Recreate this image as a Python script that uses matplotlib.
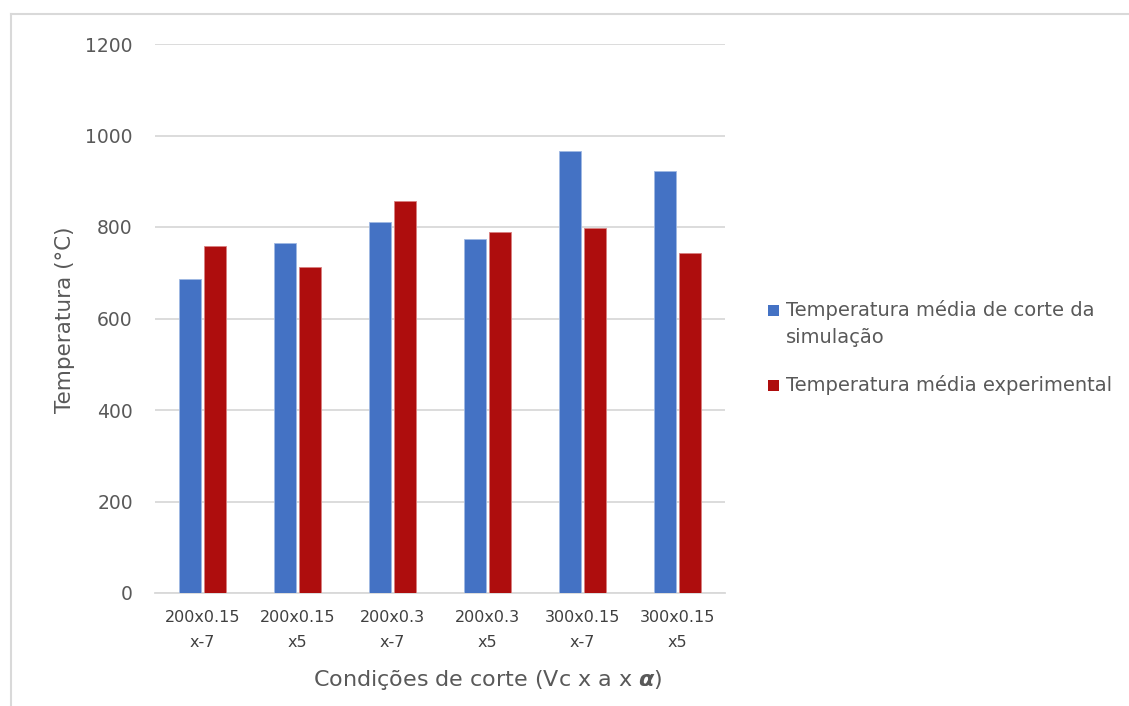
import matplotlib.pyplot as plt
from matplotlib.lines import Line2D
from matplotlib.patches import Rectangle
import numpy as np

# condições de corte
categorias = ['200x0.15\nx-7', '200x0.15\nx5', '200x0.3\nx-7', '200x0.3\nx5', '300x0.15\nx-7', '300x0.15\nx5']
temp_simulacao = [687, 765, 810, 773, 967, 923]
temp_experimental = [759, 713, 857, 790, 797, 744]
ticks_y = [0, 200, 400, 600, 800, 1000, 1200]
nomes_series = ['Temperatura média de corte da\nsimulação', 'Temperatura média experimental']
cores = ['#4472C4', '#AE0D0D']

cor_texto = '#595959'
plt.rcParams['font.family'] = ['DejaVu Sans']

W, H = 1129, 706
fig = plt.figure(figsize=(W / 100, H / 100), dpi=100)
ax = fig.add_axes([155 / W, 1 - 593 / H, 570 / W, (593 - 44) / H])

x = np.arange(len(categorias))
largura = 0.23
ax.bar(x - 0.135, temp_simulacao, largura, color=cores[0], edgecolor='#9fb8e3', linewidth=0.6, zorder=3)
ax.bar(x + 0.135, temp_experimental, largura, color=cores[1], edgecolor='#d98080', linewidth=0.6, zorder=3)

ax.set_xlim(-0.5, len(categorias) - 0.5)
ax.set_ylim(0, 1200)
ax.set_yticks(ticks_y)
ax.set_xticks(x)
ax.set_xticklabels(categorias, fontsize=11.5, color='#404040', linespacing=1.85)
ax.tick_params(axis='y', labelsize=13.5, labelcolor=cor_texto, length=0, pad=16)
ax.tick_params(axis='x', length=0, pad=12)
ax.grid(axis='y', color='#d9d9d9', linewidth=1.3, zorder=0)
for s in ['top', 'right', 'left']:
    ax.spines[s].set_visible(False)
ax.spines['bottom'].set_color('#d9d9d9')
ax.spines['bottom'].set_linewidth(1.3)

ax.set_ylabel('Temperatura (°C)', fontsize=15.5, color=cor_texto)
ax.yaxis.set_label_coords((75 - 155) / 570, 0.497)
ax.set_xlabel(r'Condições de corte (Vc x a x $\boldsymbol{\alpha}$)', fontsize=16, color=cor_texto)
ax.xaxis.set_label_coords(0.584, (593 - 668) / 549)

# legenda (quadrado alinhado com a primeira linha do texto)
for i, (nome, cor) in enumerate(zip(nomes_series, cores)):
    yc = [310, 385][i]
    fig.add_artist(Rectangle((768 / W, 1 - (yc + 5.5) / H), 11 / W, 11 / H, transform=fig.transFigure,
                             facecolor=cor, edgecolor='none'))
    fig.text(786 / W, 1 - (yc - 10) / H, nome, fontsize=14, color=cor_texto, va='top', ha='left',
             linespacing=1.55)

# borda do gráfico
fig.add_artist(Line2D([11 / W, 11 / W], [0, 1 - 14 / H], color='#d9d9d9', linewidth=1.5))
fig.add_artist(Line2D([11 / W, 1], [1 - 14 / H, 1 - 14 / H], color='#d9d9d9', linewidth=1.5))

fig.savefig('out.png', dpi=100)
